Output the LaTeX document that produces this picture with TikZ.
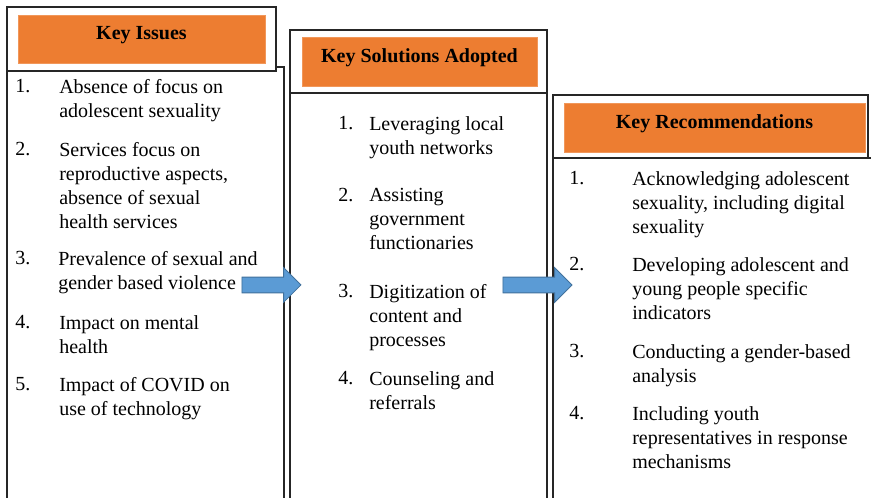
\documentclass[tikz,border=0pt]{standalone}
\usepackage{fontspec}
\setmainfont{Liberation Serif}
\usepackage{tikz}
\usetikzlibrary{shapes.arrows}

\definecolor{bannerorange}{HTML}{ED7D31}
\definecolor{arrowblue}{HTML}{5B9BD5}
\definecolor{arrowedge}{HTML}{41719C}

\tikzset{
  frame/.style={draw=black!85, line width=1pt},
  banner/.style={fill=bannerorange, draw=bannerorange!80, inner sep=0pt,
    font=\fontsize{15}{18}\selectfont\bfseries, text height=6pt, text depth=5pt},
  itemnum/.style={anchor=north west, inner sep=0pt, font=\fontsize{15}{18}\selectfont,
    execute at begin node=\strut},
  itemtext/.style={anchor=north west, inner sep=0pt, align=left, font=\fontsize{15}{18}\selectfont,
    execute at begin node=\strut, yshift=-3pt},
  blockarrow/.style={single arrow, fill=arrowblue, draw=arrowedge, line width=0.6pt,
    minimum width=25.5pt, inner sep=5.6pt, single arrow head extend=7.1pt}
}

\begin{document}
\begin{tikzpicture}[x=0.75pt, y=-0.75pt]

\useasboundingbox (0,0) rectangle (871,498);
\clip (0,0) rectangle (871,498);

% Column bodies (open at the bottom)
\draw[frame, fill=white] (7,67) rectangle (284,520);
\draw[frame, fill=white] (290,93) rectangle (547,520);
\draw[frame, fill=white] (553,158) rectangle (890,520);

% Heading frames
\draw[frame, fill=white] (7,7) rectangle (276,71);
\draw[frame, fill=white] (290,30) rectangle (547,93);
\draw[frame, fill=white] (553,95) rectangle (868,158);

% Headings
\node (issues) [banner, minimum width=185.25pt, minimum height=36pt] at (141.5,39) {Key Issues};
\node (solutions) [banner, minimum width=176.25pt, minimum height=36.75pt] at (419.5,61.5) {Key Solutions Adopted};
\node (recomm) [banner, minimum width=225.75pt, minimum height=36.75pt] at (714.5,127.5) {Key Recommendations};

% Key issues
\node (iss1n) [itemnum] at (15,75.2) {1.};
\node (iss1) [itemtext] at (59,75.2) {Absence of focus on\\adolescent sexuality};
\node (iss2n) [itemnum] at (15,138.2) {2.};
\node (iss2) [itemtext] at (59,138.2) {Services focus on\\reproductive aspects,\\absence of sexual\\health services};
\node (iss3n) [itemnum] at (15,247.2) {3.};
\node (iss3) [itemtext] at (58,247.2) {Prevalence of sexual and\\gender based violence};
\node (iss4n) [itemnum] at (15,311.2) {4.};
\node (iss4) [itemtext] at (59,311.2) {Impact on mental\\health};
\node (iss5n) [itemnum] at (15,373.2) {5.};
\node (iss5) [itemtext] at (59,373.2) {Impact of COVID on\\use of technology};

% Key solutions
\node (sol1n) [itemnum] at (338,112.2) {1.};
\node (sol1) [itemtext] at (369,112.2) {Leveraging local\\youth networks};
\node (sol2n) [itemnum] at (338,184.2) {2.};
\node (sol2) [itemtext] at (369,184.2) {Assisting\\government\\functionaries};
\node (sol3n) [itemnum] at (338,280.2) {3.};
\node (sol3) [itemtext] at (369,280.2) {Digitization of\\content and\\processes};
\node (sol4n) [itemnum] at (338,367.2) {4.};
\node (sol4) [itemtext] at (369,367.2) {Counseling and\\referrals};

% Key recommendations
\node (rec1n) [itemnum] at (569,167.2) {1.};
\node (rec1) [itemtext] at (632,167.2) {Acknowledging adolescent\\sexuality, including digital\\sexuality};
\node (rec2n) [itemnum] at (569,253.2) {2.};
\node (rec2) [itemtext] at (632,253.2) {Developing adolescent and\\young people specific\\indicators};
\node (rec3n) [itemnum] at (569,340.2) {3.};
\node (rec3) [itemtext] at (632,340.2) {Conducting a gender-based\\analysis};
\node (rec4n) [itemnum] at (569,402.2) {4.};
\node (rec4) [itemtext] at (632,402.2) {Including youth\\representatives in response\\mechanisms};

% Block arrows between the columns
\node (arrowA) [blockarrow, minimum height=44.25pt] at (267.5,285) {};
\node (arrowB) [blockarrow, minimum height=51.75pt] at (533.5,285) {};

\end{tikzpicture}
\end{document}
